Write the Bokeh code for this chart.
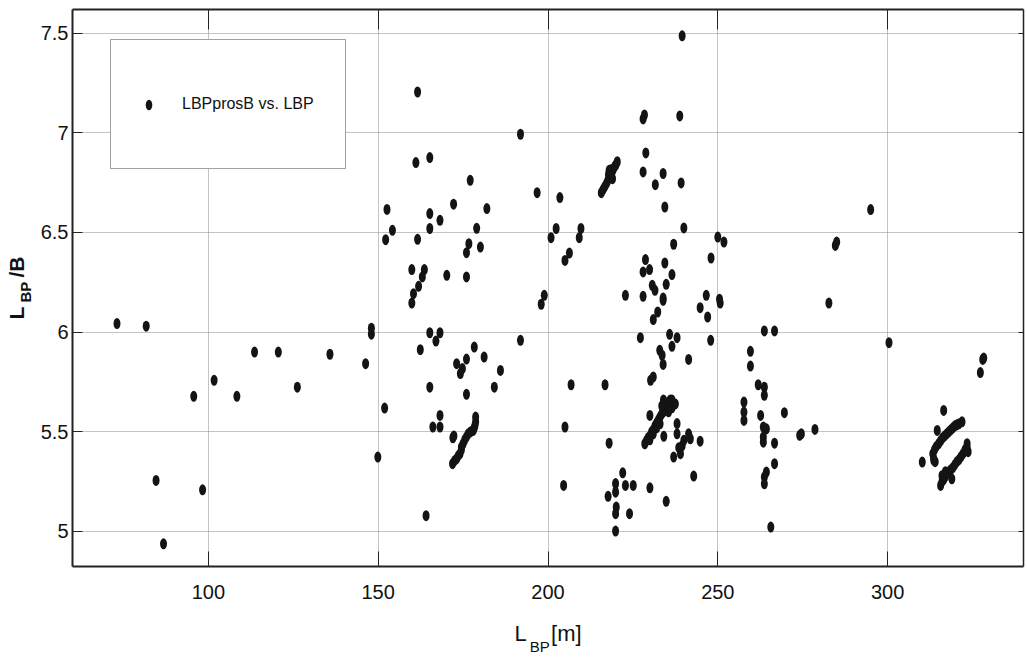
from bokeh.plotting import figure
from bokeh.models import (LinearAxis, FixedTicker, Range1d, Legend, LegendItem,
                          CustomLabelingPolicy)
from bokeh.embed import file_html
from bokeh.resources import INLINE

# ---------------- data ----------------
lbp = [
    73.1, 81.7, 113.6, 120.6, 101.7, 95.7, 108.4, 126.2, 84.6, 98.3, 86.8,
    135.8, 146.3, 148.0, 148.0, 151.9, 149.9,
    161.6, 191.9, 161.1, 165.2, 177.1, 196.8, 152.6, 172.2, 182.0, 165.2, 168.2,
    154.2, 152.2, 161.6, 165.2, 179.0, 176.7, 176.0, 180.1, 159.9, 163.6, 163.0,
    170.2, 176.0, 161.9, 160.4, 198.9, 200.9, 202.4, 159.9, 198.0,
    165.2, 168.2, 167.0, 162.4, 178.3, 181.2, 176.0, 173.1, 174.8, 174.2, 186.0,
    184.2, 191.9, 165.2, 176.0, 168.2, 166.1, 168.2, 164.1,
    171.9, 172.5, 173.1, 173.6, 174.1, 174.5, 174.5, 175.0, 175.5, 176.0, 176.5,
    177.2, 178.0, 178.3, 178.5, 178.7, 178.7, 172.3, 172.0,
    239.5, 228.0, 228.4, 238.8, 228.8, 228.0, 233.9, 231.6, 239.2, 234.4, 240.0,
    203.5, 209.7, 209.2, 206.3, 205.0,
    215.7, 216.2, 216.7, 217.2, 217.6, 218.0, 218.4, 218.8, 219.2, 219.6, 220.0,
    220.4, 217.8, 218.5, 219.0, 218.0,
    237.0, 228.7, 234.4, 228.0, 229.9, 236.5, 230.7, 231.5, 234.8, 248.0, 250.0,
    251.8, 222.8, 228.0, 233.9, 246.6, 250.5,
    233.9, 232.3, 231.0, 244.8, 247.0, 250.7, 227.2, 235.8, 238.0, 236.5, 232.9,
    233.6, 233.9, 241.4, 247.9, 230.2, 231.0, 206.8, 216.8, 205.0, 218.0, 204.6,
    228.5, 229.0, 229.5, 230.0, 230.5, 231.0, 231.5, 232.0, 232.5, 233.0, 233.5,
    234.0, 234.5, 235.0, 235.5, 236.0, 236.5, 234.0, 233.5, 232.0, 231.0, 230.0,
    235.5, 236.5, 237.5, 233.0, 230.0, 234.1, 238.0, 238.0,
    240.0, 239.0, 237.0, 241.4, 241.9, 238.5, 239.5, 244.8, 242.9, 234.8,
    222.0, 222.8, 225.1, 219.9, 217.7, 219.9, 220.1, 219.9, 224.0, 219.9, 230.0,
    263.7, 266.7, 259.6, 259.6, 261.9, 263.7, 263.7, 269.6, 257.7, 257.7, 257.7,
    262.6, 263.4, 264.3, 263.4, 263.4, 266.7, 266.7, 264.3, 263.7, 263.7, 265.6,
    282.7, 300.4, 274.1, 274.6, 278.6, 295.0, 284.6, 285.0,
    328.0, 327.3, 328.3, 316.5, 314.6, 310.2,
    313.3, 313.8, 314.3, 315.0, 315.6, 316.2, 316.8, 317.4, 318.0, 318.6, 319.2,
    319.8, 320.4, 321.0, 321.9, 313.5, 314.0, 313.6,
    315.6, 316.0, 316.5, 317.0, 317.5, 318.0, 318.9, 318.6, 319.2, 319.8, 320.4,
    321.0, 321.6, 322.2, 322.8, 323.4, 323.4, 316.0, 317.0, 323.7,
]
lbp_over_b = [
    6.043, 6.03, 5.90, 5.90, 5.758, 5.678, 5.678, 5.724, 5.256, 5.209, 4.938,
    5.889, 5.842, 6.02, 5.99, 5.619, 5.373,
    7.205, 6.993, 6.851, 6.876, 6.762, 6.70, 6.616, 6.642, 6.62, 6.595, 6.561,
    6.511, 6.464, 6.466, 6.52, 6.521, 6.444, 6.399, 6.427, 6.314, 6.314, 6.277,
    6.285, 6.277, 6.23, 6.193, 6.185, 6.474, 6.52, 6.146, 6.14,
    5.997, 5.997, 5.955, 5.912, 5.925, 5.875, 5.865, 5.842, 5.817, 5.792, 5.808,
    5.724, 5.959, 5.724, 5.688, 5.582, 5.524, 5.524, 5.079,
    5.34, 5.355, 5.365, 5.38, 5.39, 5.41, 5.423, 5.44, 5.46, 5.474, 5.49,
    5.50, 5.507, 5.52, 5.532, 5.55, 5.574, 5.479, 5.47,
    7.487, 7.07, 7.09, 7.085, 6.899, 6.804, 6.796, 6.74, 6.749, 6.628, 6.523,
    6.675, 6.52, 6.474, 6.397, 6.36,
    6.70, 6.715, 6.73, 6.745, 6.76, 6.775, 6.79, 6.80, 6.815, 6.83, 6.84,
    6.855, 6.79, 6.815, 6.77, 6.812,
    6.441, 6.364, 6.347, 6.302, 6.314, 6.289, 6.235, 6.21, 6.24, 6.372, 6.477,
    6.452, 6.185, 6.18, 6.171, 6.185, 6.165,
    6.16, 6.101, 6.063, 6.123, 6.076, 6.146, 5.972, 5.989, 5.972, 5.929, 5.909,
    5.884, 5.838, 5.863, 5.959, 5.758, 5.775, 5.736, 5.736, 5.524, 5.443, 5.231,
    5.44, 5.455, 5.47, 5.48, 5.50, 5.51, 5.53, 5.545, 5.56, 5.575, 5.59,
    5.60, 5.62, 5.635, 5.65, 5.66, 5.66, 5.66, 5.63, 5.52, 5.49, 5.46,
    5.60, 5.62, 5.64, 5.54, 5.582, 5.477, 5.541, 5.49,
    5.457, 5.39, 5.373, 5.49, 5.465, 5.42, 5.43, 5.453, 5.278, 5.151,
    5.294, 5.231, 5.231, 5.24, 5.176, 5.197, 5.122, 5.089, 5.089, 5.002, 5.219,
    6.006, 6.006, 5.904, 5.83, 5.736, 5.724, 5.683, 5.596, 5.649, 5.599, 5.557,
    5.582, 5.524, 5.515, 5.474, 5.448, 5.443, 5.34, 5.298, 5.273, 5.239, 5.022,
    6.146, 5.947, 5.482, 5.49, 5.512, 6.615, 6.435, 6.452,
    5.863, 5.797, 5.87, 5.607, 5.507, 5.348,
    5.39, 5.41, 5.425, 5.44, 5.455, 5.47, 5.48, 5.49, 5.50, 5.51, 5.52,
    5.53, 5.535, 5.54, 5.55, 5.37, 5.35, 5.356,
    5.231, 5.25, 5.26, 5.275, 5.29, 5.30, 5.264, 5.31, 5.32, 5.335, 5.35,
    5.36, 5.375, 5.39, 5.41, 5.44, 5.42, 5.28, 5.30, 5.40,
]

x_ticks = [100, 150, 200, 250, 300]
y_ticks = [5, 5.5, 6, 6.5, 7, 7.5]
y_tick_labels = ["5", "5.5", "6", "6.5", "7", "7.5"]
legend_label = "LBPprosB vs. LBP"
NB = "\u00a0"
x_title_main = "L" + NB * 4 + "[m]"     # "L_BP [m]" : main part
x_title_sub = "BP" + NB * 4              # subscript part
y_title_main = "L" + NB * 5 + "/B"      # "L_BP/B" : main part
y_title_sub = "BP" + NB * 2              # subscript part

FONT = "Liberation Sans"
INK = "#141414"
GRID = "#888888"
AX = "#222222"

p = figure(width=1027, height=662, output_backend="svg", toolbar_location=None,
           x_range=Range1d(60, 340), y_range=Range1d(4.824, 7.619),
           min_border_left=72, min_border_right=2, min_border_top=9,
           min_border_bottom=96, background_fill_color="white",
           border_fill_color="white", outline_line_color=None)

r = p.ellipse(x=lbp, y=lbp_over_b, width=7, height=11, width_units="screen",
              height_units="screen", fill_color=INK, line_color=None)

xt = FixedTicker(ticks=x_ticks)
yt = FixedTicker(ticks=y_ticks)

for ax in (p.xaxis[0], p.yaxis[0]):
    ax.axis_line_color = AX
    ax.axis_line_width = 2
    ax.major_tick_out = 0
    ax.minor_tick_out = 0
    ax.minor_tick_in = 0
    ax.major_tick_line_color = AX
    ax.major_label_text_font = FONT
    ax.major_label_text_font_size = "20px"
    ax.major_label_text_color = "#111111"
    ax.axis_label_text_color = "#111111"

p.xaxis[0].ticker = xt
p.xaxis[0].major_tick_in = 15
p.xaxis[0].major_label_standoff = 18
p.xaxis[0].axis_label = x_title_main
p.xaxis[0].axis_label_text_font = FONT
p.xaxis[0].axis_label_text_font_style = "normal"
p.xaxis[0].axis_label_text_font_size = "22px"
p.xaxis[0].axis_label_standoff = 19

p.yaxis[0].ticker = yt
p.yaxis[0].major_tick_in = 10
p.yaxis[0].major_label_standoff = 4
p.yaxis[0].major_label_overrides = {t: s for t, s in zip(y_ticks, y_tick_labels)}
p.yaxis[0].axis_label = y_title_sub
p.yaxis[0].axis_label_text_font = FONT
p.yaxis[0].axis_label_text_font_style = "bold"
p.yaxis[0].axis_label_text_font_size = "15px"
p.yaxis[0].axis_label_standoff = 4


def title_axis(text, size, style, standoff):
    return LinearAxis(ticker=FixedTicker(ticks=[]), axis_line_color=None,
                      major_tick_line_color=None, minor_tick_line_color=None,
                      major_tick_in=0, major_tick_out=0, minor_tick_in=0,
                      minor_tick_out=0, major_label_text_font_size="0px",
                      major_label_standoff=0, axis_label=text,
                      axis_label_text_font=FONT, axis_label_text_font_size=size,
                      axis_label_text_font_style=style,
                      axis_label_text_color="#111111",
                      axis_label_standoff=standoff)


p.add_layout(title_axis(x_title_sub, "15px", "normal", -11), "below")
p.add_layout(title_axis(y_title_main, "21px", "bold", -14), "left")

no_labels = CustomLabelingPolicy(code="for (const i of indices) indices.unset(i)")


def frame_axis(ticks, tick_in, width):
    return LinearAxis(ticker=FixedTicker(ticks=ticks), major_label_policy=no_labels,
                      major_label_text_font_size="1px", major_label_standoff=0,
                      major_tick_in=tick_in, major_tick_out=0, minor_tick_in=0,
                      minor_tick_out=0, axis_line_color=AX, axis_line_width=width,
                      major_tick_line_color=AX)


p.add_layout(frame_axis(x_ticks, 20, 2), "above")
p.add_layout(frame_axis(y_ticks, 5, 1.5), "right")

p.xgrid.ticker = xt
p.ygrid.ticker = yt
for g in (p.xgrid[0], p.ygrid[0]):
    g.grid_line_color = GRID
    g.grid_line_dash = "1 1"
    g.grid_line_width = 1

legend = Legend(items=[LegendItem(label=legend_label, renderers=[r])],
                location=(38, 397), padding=31, glyph_width=13, glyph_height=13,
                label_height=66, label_standoff=27, margin=0,
                label_text_font=FONT, label_text_font_size="16px",
                label_text_color="#111111", border_line_color="#444444",
                border_line_width=1.5, background_fill_color="white",
                background_fill_alpha=1.0)
p.add_layout(legend)

open("out.html", "w").write(file_html(p, INLINE))
